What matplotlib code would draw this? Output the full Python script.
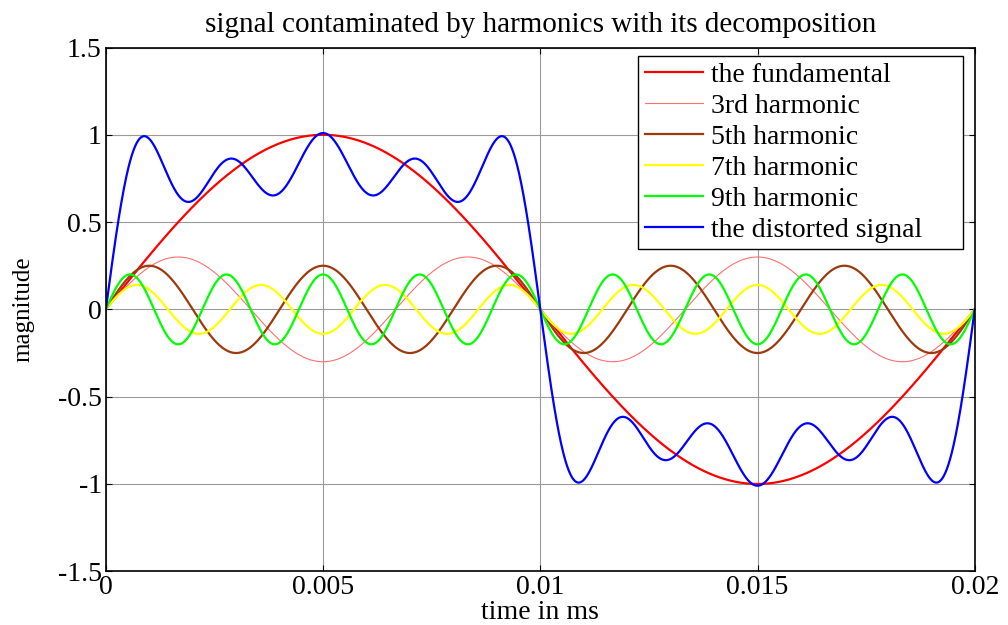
import numpy as np
import matplotlib
matplotlib.use("Agg")
import matplotlib.pyplot as plt

# Componentes de la señal (frecuencia de red 50 Hz)
frecuencia = 50
ordenes = [1, 3, 5, 7, 9]
amplitudes = [1.0, 0.30, 0.25, 0.14, 0.20]
etiquetas = ["the fundamental", "3rd harmonic", "5th harmonic",
             "7th harmonic", "9th harmonic"]
colores = ["#ff0000", "#ff7070", "#9c3a0c", "#ffff00", "#00ff00"]
grosores = [1.6, 0.8, 1.6, 1.6, 1.6]

x_ticks = [0, 0.005, 0.01, 0.015, 0.02]
x_tick_labels = ["0", "0.005", "0.01", "0.015", "0.02"]
y_ticks = [-1.5, -1, -0.5, 0, 0.5, 1, 1.5]
y_tick_labels = ["-1.5", "-1", "-0.5", "0", "0.5", "1", "1.5"]

plt.rcParams["font.family"] = ["Liberation Serif", "DejaVu Serif"]

t = np.linspace(0, 0.02, 2001)

fig = plt.figure(figsize=(10.08, 6.25), dpi=100)
ax = fig.add_axes([0.105, 0.086, 0.862, 0.838])

# Cada armónico por separado
senal = np.zeros_like(t)
for n, a, lab, c, lw in zip(ordenes, amplitudes, etiquetas, colores, grosores):
    y = a * np.sin(2 * np.pi * frecuencia * n * t)
    senal += y
    ax.plot(t, y, color=c, lw=lw, label=lab)

# Señal distorsionada = suma de todas las componentes
ax.plot(t, senal, color="#0000ff", lw=1.6, label="the distorted signal")

ax.set_xlim(0, 0.02)
ax.set_ylim(-1.5, 1.5)
ax.set_xticks(x_ticks)
ax.set_xticklabels(x_tick_labels)
ax.set_yticks(y_ticks)
ax.set_yticklabels(y_tick_labels)
ax.tick_params(direction="in", top=True, right=True, labelsize=20, length=4,
               pad=3)
ax.grid(True, color="#9a9a9a", lw=0.8)
for s in ax.spines.values():
    s.set_linewidth(1.2)

ax.set_title("signal contaminated by harmonics with its decomposition",
             fontsize=21, pad=11)
ax.set_xlabel("time in ms", fontsize=20, labelpad=0)
ax.set_ylabel("magnitude", fontsize=18, labelpad=17)

# Leyenda estirada al ancho del recuadro
leg = ax.legend(loc="upper left", bbox_to_anchor=(0.613, 0.983, 0.374, 0.0),
                mode="expand", fontsize=20, fancybox=False, framealpha=1,
                edgecolor="black", handlelength=2.1, borderaxespad=0.0,
                labelspacing=0.2, borderpad=0.22, handletextpad=0.3)
leg.get_frame().set_linewidth(1.0)

fig.savefig("out.png", dpi=100)
